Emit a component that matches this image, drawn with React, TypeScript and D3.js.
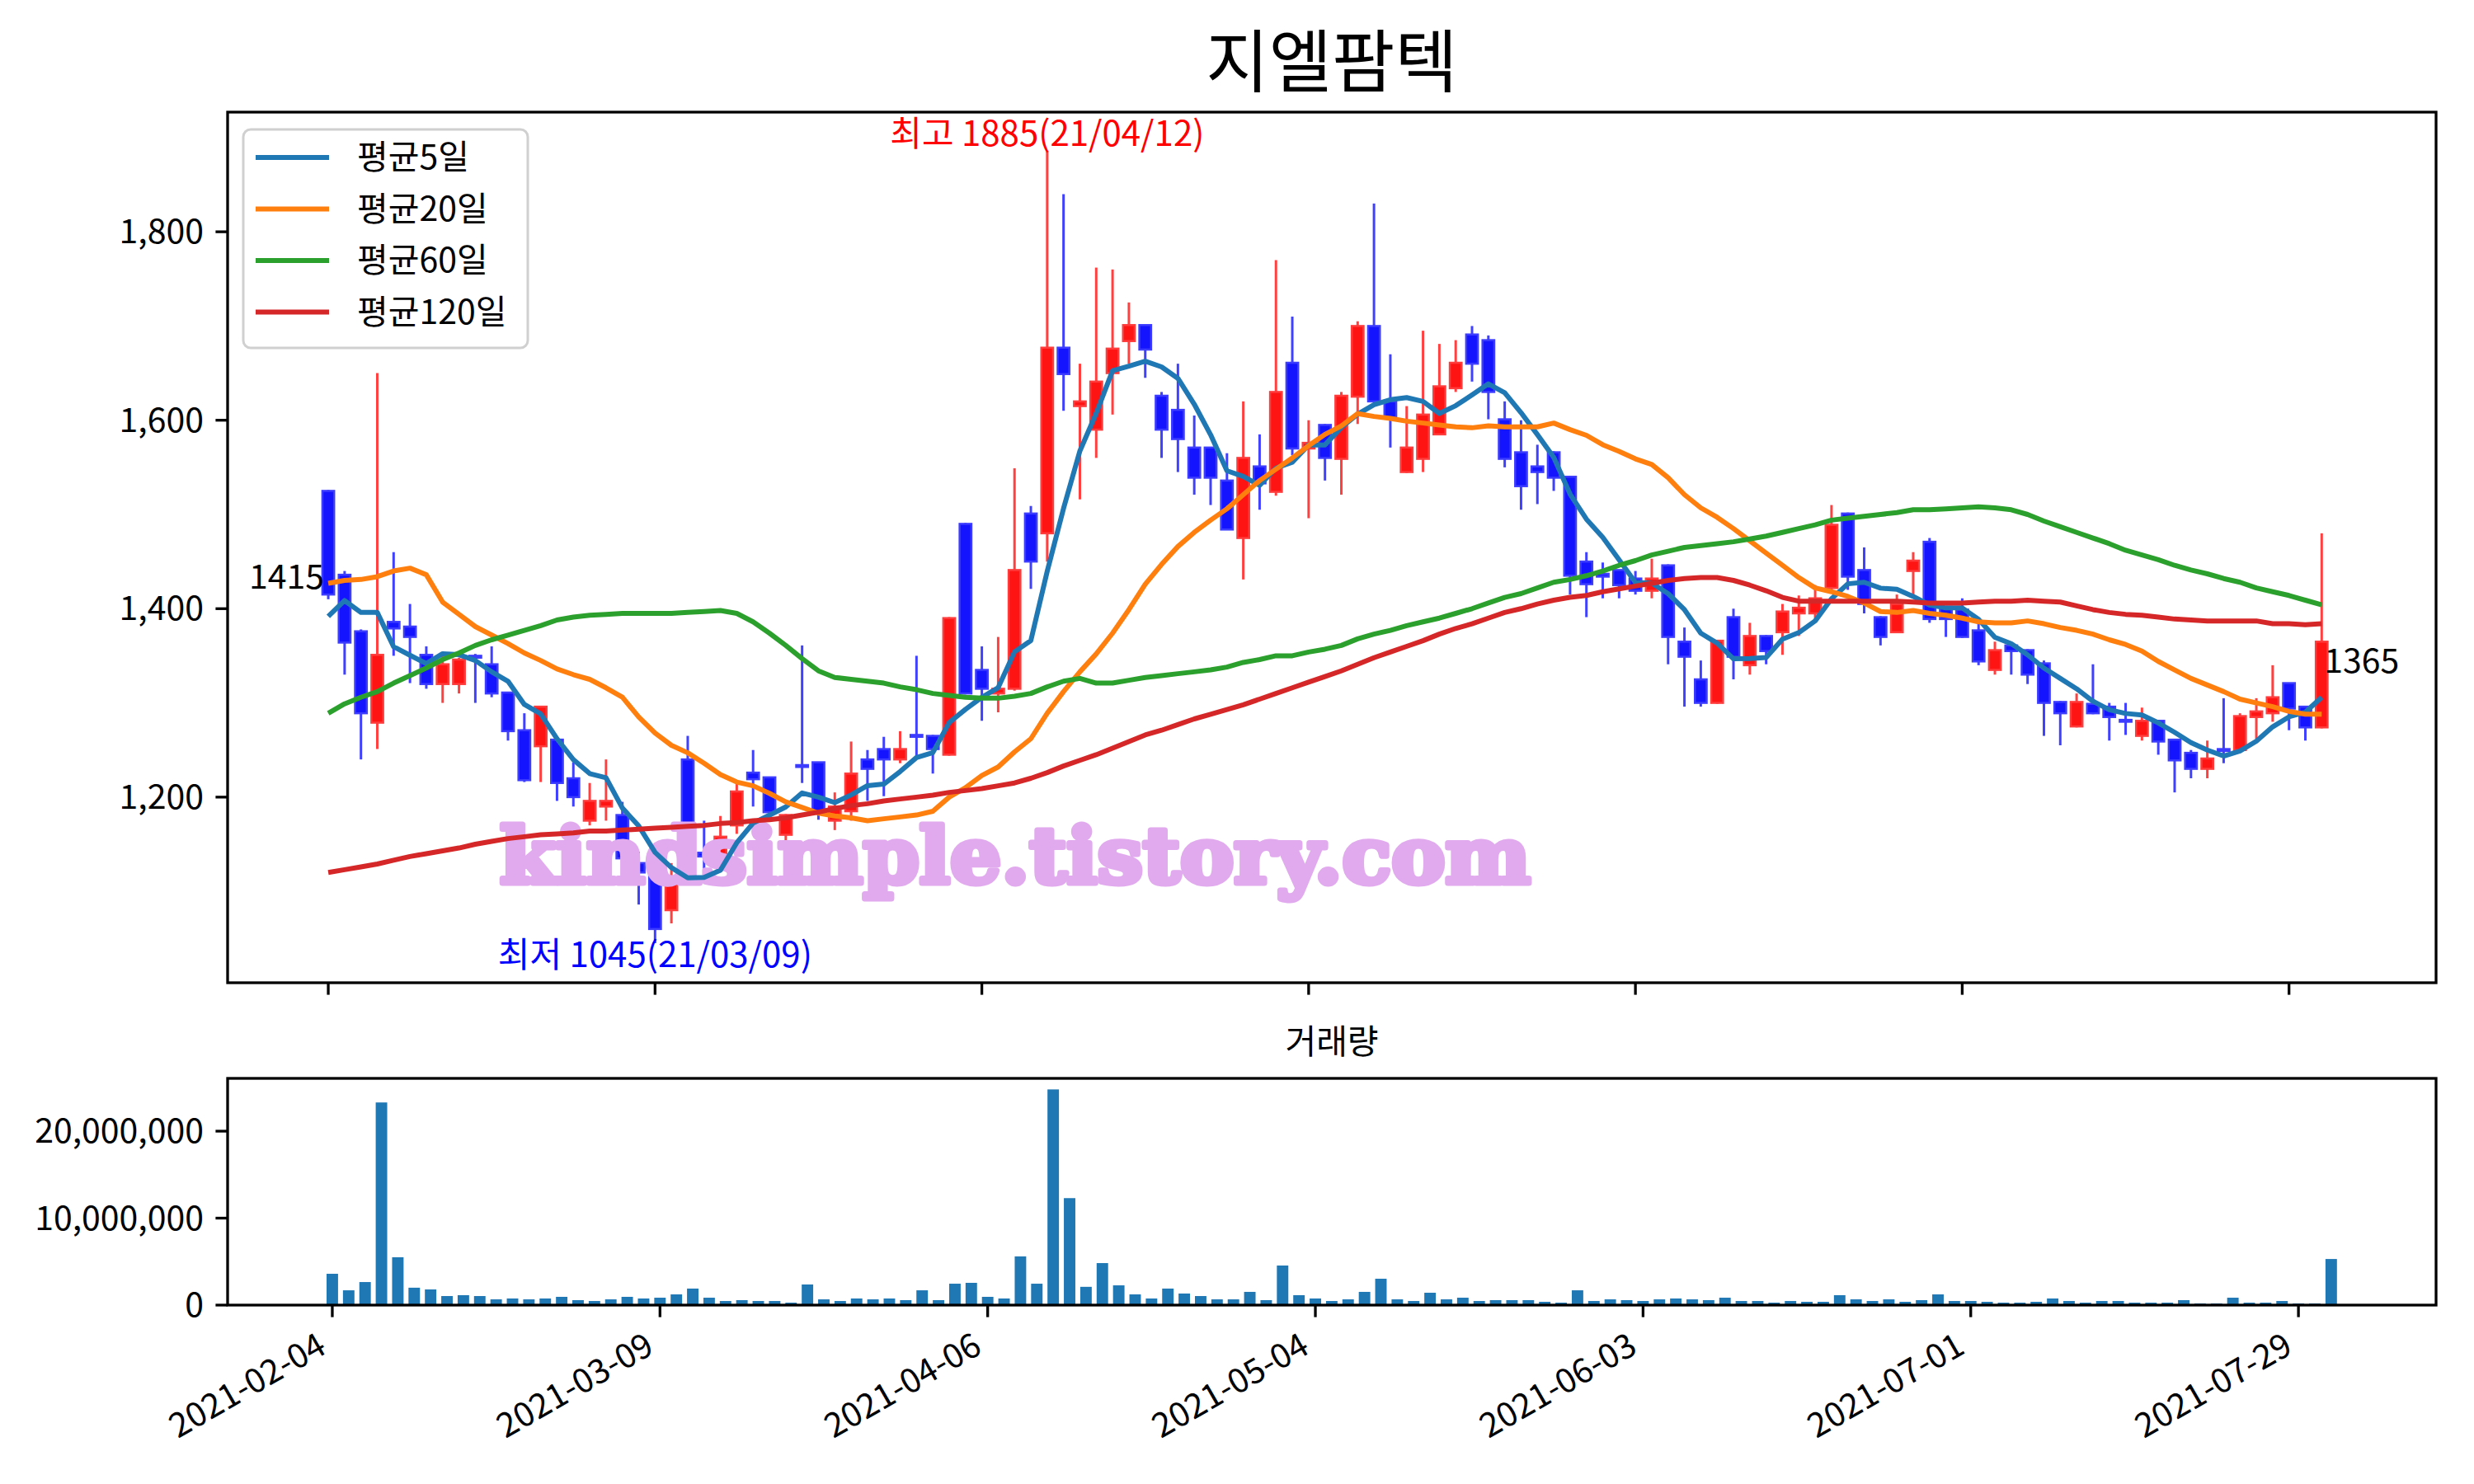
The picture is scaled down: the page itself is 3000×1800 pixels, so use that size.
import React from 'react';
import * as d3 from 'd3';

const tickIdx = [0, 20, 40, 60, 80, 100, 120];
const tickLabels = ['2021-02-04', '2021-03-09', '2021-04-06', '2021-05-04', '2021-06-03', '2021-07-01', '2021-07-29'];
const priceTicks = [1200, 1400, 1600, 1800];
const volTicks = [0, 10000000, 20000000];

const opens = [1525,1436,1376,1279,1386,1381,1351,1320,1320,1350,1341,1311,1271,1254,1261,1220,1175,1190,1181,1130,1121,1080,1240,1141,1140,1170,1226,1221,1160,1234,1237,1175,1185,1240,1251,1240,1266,1265,1245,1490,1335,1310,1315,1501,1480,1677,1615,1590,1650,1684,1701,1626,1611,1571,1571,1536,1475,1551,1524,1661,1570,1595,1559,1625,1700,1620,1545,1559,1585,1634,1691,1685,1601,1566,1551,1566,1540,1450,1437,1441,1432,1419,1446,1365,1325,1300,1391,1340,1371,1375,1395,1395,1422,1501,1441,1391,1375,1440,1471,1402,1399,1377,1335,1361,1356,1342,1301,1275,1299,1296,1282,1265,1281,1261,1247,1230,1251,1250,1285,1289,1321,1296,1274];
const highs = [1526,1440,1378,1650,1460,1405,1360,1350,1348,1352,1360,1311,1289,1297,1261,1237,1215,1240,1195,1142,1122,1130,1265,1175,1180,1215,1250,1221,1182,1361,1237,1205,1259,1250,1264,1270,1350,1266,1391,1491,1360,1370,1549,1509,1885,1840,1660,1762,1760,1725,1701,1630,1660,1605,1571,1565,1620,1585,1770,1710,1600,1596,1630,1705,1830,1670,1615,1695,1681,1685,1700,1690,1620,1600,1574,1567,1541,1460,1449,1441,1440,1453,1447,1380,1345,1367,1400,1385,1372,1405,1414,1425,1510,1502,1465,1392,1415,1460,1475,1403,1411,1384,1365,1362,1357,1345,1302,1310,1341,1300,1300,1295,1282,1262,1250,1260,1305,1289,1305,1340,1321,1296,1480];
const lows = [1410,1330,1240,1251,1350,1321,1315,1300,1310,1300,1306,1260,1216,1216,1196,1190,1170,1175,1111,1086,1045,1066,1140,1113,1125,1161,1190,1183,1151,1215,1176,1165,1175,1196,1201,1236,1243,1225,1244,1309,1281,1290,1313,1421,1450,1610,1516,1560,1606,1660,1645,1560,1545,1521,1510,1484,1431,1505,1520,1563,1496,1536,1521,1596,1620,1571,1544,1545,1584,1630,1641,1601,1550,1505,1511,1525,1415,1391,1411,1411,1415,1411,1341,1296,1296,1299,1325,1330,1341,1351,1371,1390,1419,1420,1395,1361,1374,1414,1385,1370,1369,1340,1330,1330,1320,1265,1255,1274,1288,1260,1266,1260,1245,1205,1220,1220,1236,1249,1262,1280,1271,1260,1273];
const closes = [1415,1364,1289,1351,1379,1370,1320,1341,1346,1348,1310,1270,1218,1296,1215,1200,1196,1196,1135,1120,1060,1115,1142,1137,1158,1206,1219,1184,1181,1232,1184,1190,1225,1230,1240,1251,1264,1251,1390,1310,1315,1315,1441,1450,1677,1649,1620,1641,1676,1701,1675,1590,1580,1539,1539,1484,1560,1533,1630,1570,1576,1560,1626,1700,1620,1603,1571,1606,1636,1661,1660,1630,1559,1530,1545,1539,1435,1426,1434,1425,1419,1432,1370,1349,1300,1366,1349,1371,1355,1397,1401,1411,1489,1434,1405,1370,1405,1451,1389,1389,1370,1344,1356,1355,1330,1300,1289,1301,1289,1285,1280,1281,1259,1239,1230,1241,1249,1286,1291,1306,1294,1274,1365];
const priorCloses = [1280, 1352, 1351, 1561];
const volumes = [3.6,1.7,2.65,23.3,5.5,2.0,1.8,1.04,1.14,1.04,0.66,0.76,0.66,0.76,0.95,0.57,0.47,0.66,0.95,0.76,0.85,1.23,1.9,0.85,0.47,0.57,0.47,0.47,0.28,2.37,0.66,0.47,0.76,0.66,0.76,0.57,1.7,0.57,2.46,2.56,0.95,0.76,5.6,2.46,24.8,12.3,2.1,4.83,2.27,1.23,0.76,1.9,1.33,1.04,0.66,0.66,1.52,0.57,4.55,1.14,0.76,0.47,0.66,1.52,3.03,0.66,0.47,1.42,0.66,0.85,0.47,0.57,0.57,0.57,0.38,0.28,1.7,0.47,0.66,0.57,0.47,0.66,0.76,0.66,0.57,0.85,0.47,0.47,0.28,0.47,0.38,0.38,1.14,0.66,0.47,0.66,0.38,0.57,1.23,0.47,0.47,0.38,0.28,0.28,0.38,0.76,0.47,0.28,0.47,0.47,0.28,0.28,0.28,0.57,0.19,0.19,0.85,0.28,0.28,0.47,0.19,0.19,5.3];
const ma20 = [1427,1430,1431,1434,1440,1443,1436,1407,1394,1381,1372,1363,1353,1345,1336,1330,1325,1316,1306,1285,1268,1255,1247,1236,1224,1216,1212,1204,1195,1189,1183,1180,1178,1175,1177,1179,1181,1185,1200,1210,1223,1232,1248,1262,1289,1312,1333,1352,1374,1399,1426,1447,1466,1481,1494,1506,1521,1536,1548,1560,1573,1585,1594,1607,1604,1602,1599,1597,1595,1593,1592,1594,1593,1593,1593,1597,1590,1584,1574,1567,1559,1553,1539,1521,1507,1497,1485,1472,1459,1446,1433,1422,1418,1413,1406,1397,1396,1398,1395,1393,1390,1386,1385,1385,1387,1384,1380,1377,1373,1367,1362,1355,1344,1335,1326,1319,1312,1304,1300,1296,1291,1288,1288];
const ma60 = [1289,1299,1306,1312,1321,1329,1337,1346,1353,1361,1367,1372,1377,1382,1388,1391,1393,1394,1395,1395,1395,1395,1396,1397,1398,1395,1386,1374,1361,1347,1334,1327,1325,1323,1321,1317,1314,1310,1308,1306,1305,1305,1307,1310,1317,1323,1326,1321,1321,1324,1327,1329,1331,1333,1335,1338,1343,1346,1350,1350,1354,1357,1361,1368,1373,1377,1382,1386,1390,1395,1400,1406,1412,1416,1422,1428,1431,1435,1440,1446,1451,1457,1461,1465,1467,1469,1471,1474,1477,1481,1485,1489,1494,1496,1498,1500,1502,1505,1505,1506,1507,1508,1507,1505,1500,1493,1487,1481,1475,1469,1462,1457,1452,1446,1441,1437,1432,1428,1422,1418,1414,1409,1404];
const ma120 = [1120,1123,1126,1129,1133,1137,1140,1143,1146,1150,1153,1156,1158,1160,1161,1162,1164,1164,1165,1166,1167,1168,1169,1170,1172,1173,1175,1176,1178,1181,1184,1188,1191,1193,1196,1198,1200,1202,1205,1207,1209,1212,1215,1220,1226,1233,1239,1245,1252,1259,1266,1271,1277,1283,1288,1293,1298,1304,1310,1316,1322,1328,1334,1341,1348,1354,1360,1366,1373,1379,1384,1390,1396,1400,1405,1409,1412,1414,1418,1421,1424,1427,1430,1432,1433,1433,1430,1425,1419,1412,1408,1408,1408,1408,1408,1408,1408,1407,1406,1406,1406,1407,1408,1408,1409,1408,1407,1403,1399,1396,1394,1393,1391,1389,1388,1387,1387,1387,1387,1384,1384,1383,1384];

const FONT = "'Noto Sans CJK KR', 'Noto Sans', sans-serif";

export default function App() {
  const W = 3000, H = 1800;
  const L = 276, R = 2954, mT = 136, mB = 1192, vT = 1308, vB = 1583;
  const x = d3.scaleLinear().domain([-6.16, 129.0]).range([L, R]);
  const y = d3.scaleLinear().domain([1003, 1927]).range([mB, mT]);
  const xv = d3.scaleLinear().domain([-6.39, 128.4]).range([L, R]);
  const yv = d3.scaleLinear().domain([0, 26.07e6]).range([vB, vT]);

  const allCloses = [...priorCloses, ...closes];
  const ma5 = closes.map((_, i) => d3.mean(allCloses.slice(i, i + 5)) as number);

  const line = d3.line<number>().x((_, i) => x(i)).y((d) => y(d));
  const fmt = d3.format(',');
  const bodyHalf = (x(0.36) - x(0));
  const barHalf = (xv(0.35) - xv(0));

  const maSeries = [
    { name: '평균5일', data: ma5, color: '#1f77b4' },
    { name: '평균20일', data: ma20, color: '#ff7f0e' },
    { name: '평균60일', data: ma60, color: '#2ca02c' },
    { name: '평균120일', data: ma120, color: '#d62728' },
  ];

  const hiIdx = highs.indexOf(d3.max(highs) as number);
  const loIdx = lows.indexOf(d3.min(lows) as number);

  return (
    <svg width={W} height={H} style={{ position: 'absolute', left: 0, top: 0, background: '#fff' }} fontFamily={FONT}>
      <rect x={0} y={0} width={W} height={H} fill="#fff" />
      <text x={(L + R) / 2} y={105} fontSize={83} textAnchor="middle" fill="#000">지엘팜텍</text>

      {/* candles */}
      <g>
        {closes.map((c, i) => {
          const o = opens[i];
          const up = c >= o;
          const wick = up ? '#ff4040' : '#4040ff';
          const fill = up ? '#ff1414' : '#1414ff';
          const edge = up ? '#ff3c3c' : '#3c3cff';
          const top = y(Math.max(o, c));
          const bot = y(Math.min(o, c));
          return (
            <g key={i}>
              <line x1={x(i)} x2={x(i)} y1={y(highs[i])} y2={y(lows[i])} stroke={wick} strokeWidth={3} />
              <rect x={x(i) - bodyHalf} y={top} width={bodyHalf * 2} height={Math.max(bot - top, 1)} fill={fill} stroke={edge} strokeWidth={2.5} />
            </g>
          );
        })}
      </g>

      {/* watermark */}
      <text x={606} y={1071} fontSize={94} fontWeight="bold" fontFamily="'DejaVu Serif', serif" fill="#e2aaee" stroke="#e2aaee" strokeWidth={7} strokeLinejoin="round" textLength={1250} lengthAdjust="spacingAndGlyphs">kindsimple.tistory.com</text>

      {/* MA lines */}
      {maSeries.map((s) => (
        <path key={s.name} d={line(s.data) || ''} fill="none" stroke={s.color} strokeWidth={6} strokeLinejoin="round" />
      ))}

      {/* annotations */}
      <text x={x(hiIdx)} y={177} fontSize={42} textAnchor="middle" fill="#ff0000">{`최고 ${highs[hiIdx]}(21/04/12)`}</text>
      <text x={x(loIdx)} y={1173} fontSize={42} textAnchor="middle" fill="#0000ff">{`최저 ${lows[loIdx]}(21/03/09)`}</text>
      <text x={x(0) - 5} y={y(closes[0]) - 7} fontSize={41} textAnchor="end" fill="#000">{closes[0]}</text>
      <text x={x(closes.length - 1) + 3} y={y(closes[closes.length - 1]) + 38} fontSize={41} textAnchor="start" fill="#000">{closes[closes.length - 1]}</text>

      {/* legend */}
      <g>
        <rect x={295} y={157} width={345} height={265} rx={9} fill="#fff" fillOpacity={0.8} stroke="#d0d0d0" strokeWidth={3} />
        {maSeries.map((s, k) => {
          const ly = 191 + k * 62.5;
          return (
            <g key={s.name}>
              <line x1={310} x2={399} y1={ly} y2={ly} stroke={s.color} strokeWidth={6} />
              <text x={433} y={ly + 14} fontSize={41} fill="#000">{s.name}</text>
            </g>
          );
        })}
      </g>

      {/* main axes */}
      <rect x={L} y={mT} width={R - L} height={mB - mT} fill="none" stroke="#000" strokeWidth={3.3} />
      {priceTicks.map((t) => (
        <g key={t}>
          <line x1={L - 14.6} x2={L} y1={y(t)} y2={y(t)} stroke="#000" strokeWidth={3.3} />
          <text x={L - 29} y={y(t) + 14} fontSize={41} textAnchor="end" fill="#000">{fmt(t)}</text>
        </g>
      ))}
      {tickIdx.map((t) => (
        <line key={t} x1={x(t)} x2={x(t)} y1={mB} y2={mB + 14.6} stroke="#000" strokeWidth={3.3} />
      ))}

      {/* volume */}
      <text x={(L + R) / 2} y={1278} fontSize={41} textAnchor="middle" fill="#000">거래량</text>
      {volumes.map((v, i) => (
        <rect key={i} x={xv(i) - barHalf} y={yv(v * 1e6)} width={barHalf * 2} height={vB - yv(v * 1e6)} fill="#1f77b4" />
      ))}
      <rect x={L} y={vT} width={R - L} height={vB - vT} fill="none" stroke="#000" strokeWidth={3.3} />
      {volTicks.map((t) => (
        <g key={t}>
          <line x1={L - 14.6} x2={L} y1={yv(t)} y2={yv(t)} stroke="#000" strokeWidth={3.3} />
          <text x={L - 29} y={yv(t) + 14} fontSize={41} textAnchor="end" fill="#000">{fmt(t)}</text>
        </g>
      ))}
      {tickIdx.map((t, k) => (
        <g key={t}>
          <line x1={xv(t)} x2={xv(t)} y1={vB} y2={vB + 14.6} stroke="#000" strokeWidth={3.3} />
          <text transform={`translate(${xv(t) - 5},${1640}) rotate(-30)`} fontSize={41} textAnchor="end" fill="#000">{tickLabels[k]}</text>
        </g>
      ))}
    </svg>
  );
}
